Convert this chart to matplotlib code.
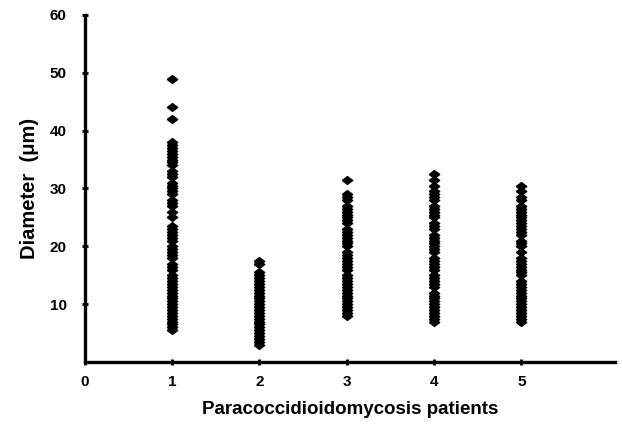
import matplotlib
matplotlib.use("Agg")
import matplotlib.pyplot as plt

plt.rcParams["font.family"] = ["Liberation Sans", "DejaVu Sans"]
plt.rcParams["font.weight"] = "bold"

# diameters (um) per patient
patient1 = [49, 44, 42, 38, 37.5, 37, 36.5, 36, 35.5, 35, 34.5, 34, 33, 32.5, 32,
            31, 30.5, 30, 29.5, 29, 28, 27.5, 27, 26, 25, 23.5, 23, 22.5, 22, 21.5,
            21, 20, 19.5, 19, 18.5, 18, 17, 16.5, 16, 15, 14.5, 14, 13.5, 13, 12.5,
            12, 11.5, 11, 10.5, 10, 9.5, 9, 8.5, 8, 7.5, 7, 6.5, 6, 5.5]
patient2 = [17.5, 17, 15.5, 15, 14.5, 14, 13.5, 13, 12.5, 12, 11.5, 11, 10.5, 10,
            9.5, 9, 8.5, 8, 7.5, 7, 6.5, 6, 5.5, 5, 4.5, 4, 3.5, 3]
patient3 = [31.5, 29, 28.5, 28, 27, 26.5, 26, 25.5, 25, 24.5, 24, 23, 22.5, 22,
            21.5, 21, 20.5, 20, 19, 18.5, 18, 17.5, 17, 16.5, 16, 15, 14.5, 14,
            13.5, 13, 12.5, 12, 11.5, 11, 10.5, 10, 9.5, 9, 8.5, 8]
patient4 = [32.5, 31.5, 30.5, 29.5, 29, 28.5, 28, 27, 26.5, 26, 25.5, 25, 24, 23.5,
            23, 22, 21.5, 21, 20.5, 20, 19.5, 19, 18, 17.5, 17, 16.5, 16, 15, 14.5,
            14, 13.5, 13, 12, 11.5, 11, 10.5, 10, 9.5, 9, 8.5, 8, 7.5, 7]
patient5 = [30.5, 29.5, 28.5, 28, 27, 26.5, 26, 25.5, 25, 24.5, 24, 23.5, 23, 22.5,
            22, 21, 20.5, 20, 19, 18, 17.5, 17, 16.5, 16, 15.5, 15, 14, 13.5, 13,
            12.5, 12, 11.5, 11, 10.5, 10, 9.5, 9, 8.5, 8, 7.5, 7]

patients = [1, 2, 3, 4, 5]
series = [patient1, patient2, patient3, patient4, patient5]

# flat diamond like the original symbols
diamond = [(-1, 0), (0, 0.75), (1, 0), (0, -0.75), (-1, 0)]

fig = plt.figure(figsize=(6.23, 4.25), dpi=100)
ax = fig.add_axes([0.136, 0.148, 0.851, 0.817])

for p, vals in zip(patients, series):
    ax.plot([p] * len(vals), vals, linestyle="none", marker=diamond,
            markersize=7.5, color="black")

ax.set_xlim(0, 6.07)
ax.set_ylim(0, 60)
ax.set_xticks([0, 1, 2, 3, 4, 5])
ax.set_yticks([10, 20, 30, 40, 50, 60])

for side in ["top", "right"]:
    ax.spines[side].set_visible(False)
for side in ["left", "bottom"]:
    ax.spines[side].set_linewidth(2.4)

ax.tick_params(axis="both", direction="inout", length=4, width=2,
               labelsize=11)
ax.tick_params(axis="y", pad=11)
ax.tick_params(axis="x", pad=7)
for lab in ax.get_xticklabels() + ax.get_yticklabels():
    lab.set_fontweight("bold")

ax.set_xlabel("Paracoccidioidomycosis patients", fontsize=13.5,
              fontweight="bold", labelpad=9)
ax.set_ylabel("Diameter  (\u03bcm)", fontsize=14.5, fontweight="bold",
              labelpad=8)

fig.savefig("out.png", dpi=100)
